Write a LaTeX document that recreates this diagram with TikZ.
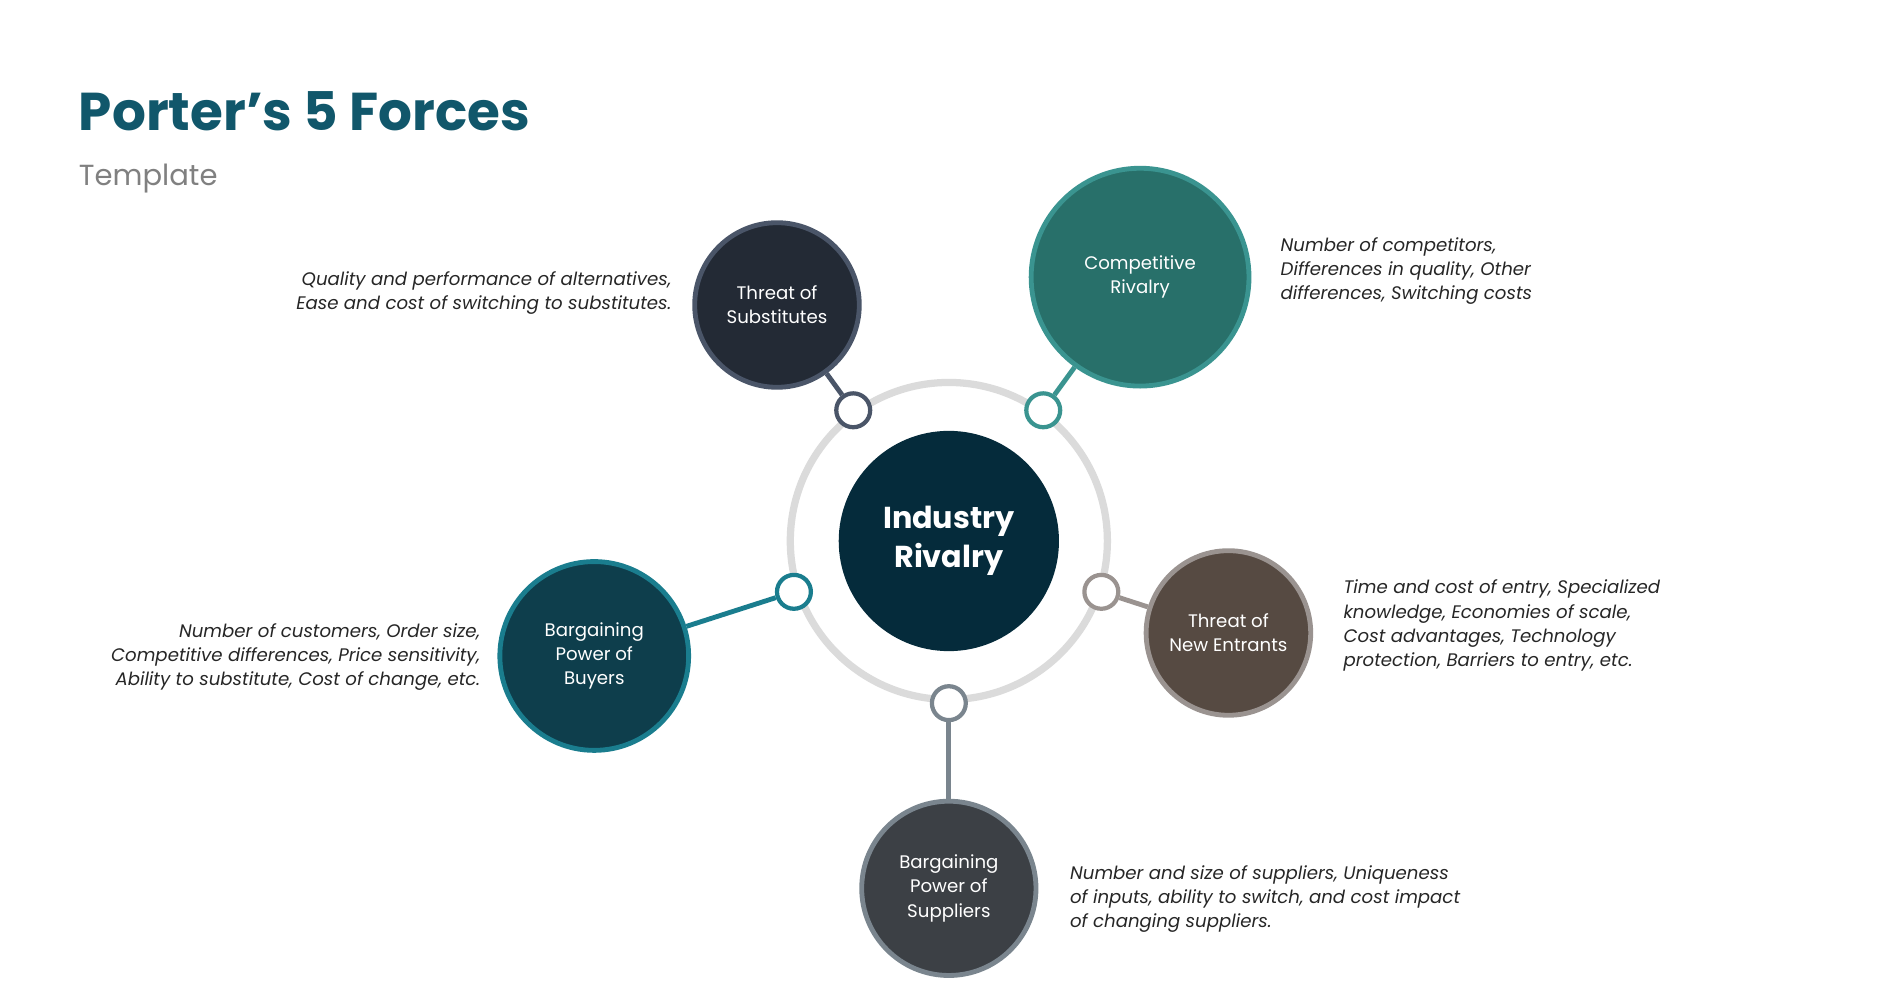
\documentclass[tikz,border=0pt]{standalone}
\usepackage{fontspec}
\setmainfont{Poppins}
\begin{document}
\begin{tikzpicture}[x=1pt,y=-1pt,
 big/.style={circle,line width=4pt,text=white,align=center,font=\fontsize{15}{20}\selectfont,inner sep=0pt},
 knob/.style={circle,fill=white,line width=3.5pt,minimum size=28pt,inner sep=0pt},
 link/.style={line width=4pt},
 desc/.style={font=\fontsize{15}{20}\selectfont\itshape,text=black!85,inner sep=0pt}]
\useasboundingbox (0,0) rectangle (1560,815);
\definecolor{ttl}{HTML}{11576B}
\node[anchor=base west,font=\fontsize{44}{50}\selectfont\bfseries,text=ttl,inner sep=0] (title) at (65,108) {Porter’s 5 Forces};
\node[anchor=base west,font=\fontsize{24}{30}\selectfont,text=gray,inner sep=0] (sub) at (65,153) {Template};
\draw[line width=6pt,color=black!14] (784,447) circle (131);
\node[circle,fill={rgb,255:red,5;green,43;blue,59},minimum size=182pt,inner sep=0,text=white,align=center,font=\fontsize{25}{32}\selectfont\bfseries] (c) at (784,447) {Industry\\Rivalry};
% substitutes
\definecolor{sb}{HTML}{4A5568}\definecolor{sf}{HTML}{232A35}
\node[big,fill=sf,draw=sb,minimum size=136pt] (s) at (642,252) {Threat of\\Substitutes};
\node[knob,draw=sb] (sk) at (705,339) {};
\draw[link,sb] (s) -- (sk);
\node[desc,anchor=north east,align=right] (sd) at (555,224) {Quality and performance of alternatives,\\Ease and cost of switching to substitutes.};
% rivalry
\definecolor{rb}{HTML}{3A9490}\definecolor{rf}{HTML}{28706A}
\node[big,fill=rf,draw=rb,minimum size=180pt] (r) at (942,229) {Competitive\\Rivalry};
\node[knob,draw=rb] (rk) at (862,339) {};
\draw[link,rb] (r) -- (rk);
\node[desc,anchor=north west,align=left] (rd) at (1058,196) {Number of competitors,\\Differences in quality, Other\\differences, Switching costs};
% new entrants
\definecolor{nb}{HTML}{9A9390}\definecolor{nf}{HTML}{564A42}
\node[big,fill=nf,draw=nb,minimum size=136pt] (n) at (1015,523) {Threat of\\New Entrants};
\node[knob,draw=nb] (nk) at (910,489) {};
\draw[link,nb] (n) -- (nk);
\node[desc,anchor=north west,align=left] (nd) at (1110,479) {Time and cost of entry, Specialized\\knowledge, Economies of scale,\\Cost advantages, Technology\\protection, Barriers to entry, etc.};
% buyers
\definecolor{bb}{HTML}{1A7D8E}\definecolor{bf}{HTML}{0E3E4C}
\node[big,fill=bf,draw=bb,minimum size=156pt] (b) at (491,542) {Bargaining\\Power of\\Buyers};
\node[knob,draw=bb] (bk) at (656,489) {};
\draw[link,bb] (b) -- (bk);
\node[desc,anchor=north east,align=right] (bd) at (397,515) {Number of customers, Order size,\\Competitive differences, Price sensitivity,\\Ability to substitute, Cost of change, etc.};
% suppliers
\definecolor{pb}{HTML}{7A858E}\definecolor{pf}{HTML}{3C4045}
\node[big,fill=pf,draw=pb,minimum size=144pt] (p) at (784,734) {Bargaining\\Power of\\Suppliers};
\node[knob,draw=pb] (pk) at (784,581) {};
\draw[link,pb] (p) -- (pk);
\node[desc,anchor=north west,align=left] (pd) at (884,715) {Number and size of suppliers, Uniqueness\\of inputs, ability to switch, and cost impact\\of changing suppliers.};
\end{tikzpicture}
\end{document}
